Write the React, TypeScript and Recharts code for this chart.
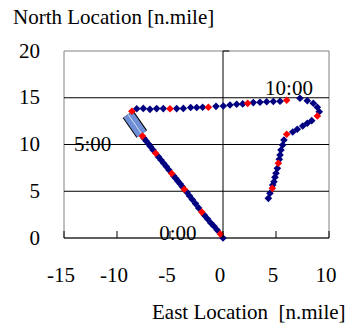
import React from 'react';
import {
  ScatterChart,
  Scatter,
  XAxis,
  YAxis,
  ReferenceLine,
  ReferenceArea,
  ReferenceDot,
} from 'recharts';

// ---- data (East, North in n.mile) ----
const xTicks = [-15, -10, -5, 0, 5, 10];
const yTicks = [0, 5, 10, 15, 20];
const gridY = [5, 10, 15];

// 10-minute track points (blue)
const diagonalTrack = [
  { x: 0, y: 0 },
  { x: -0.55, y: 0.85 }, { x: -0.85, y: 1.25 }, { x: -1.15, y: 1.6 }, { x: -1.45, y: 2.02 }, { x: -1.75, y: 2.42 },
  { x: -2.3, y: 3.22 }, { x: -2.6, y: 3.68 }, { x: -2.9, y: 4.12 }, { x: -3.15, y: 4.5 }, { x: -3.4, y: 4.88 },
  { x: -3.85, y: 5.5 }, { x: -4.05, y: 5.8 }, { x: -4.25, y: 6.08 }, { x: -4.45, y: 6.36 }, { x: -4.65, y: 6.62 },
  { x: -5.1, y: 7.28 }, { x: -5.35, y: 7.64 }, { x: -5.6, y: 8.0 }, { x: -5.85, y: 8.35 }, { x: -6.1, y: 8.7 },
  { x: -6.6, y: 9.42 }, { x: -6.85, y: 9.78 }, { x: -7.05, y: 10.08 }, { x: -7.25, y: 10.38 }, { x: -7.45, y: 10.66 },
];
const eastTrack = [
  { x: -8.14, y: 13.82 }, { x: -7.52, y: 13.86 }, { x: -6.89, y: 13.76 }, { x: -6.26, y: 13.84 }, { x: -5.63, y: 13.84 },
  { x: -4.37, y: 13.84 }, { x: -3.74, y: 13.86 }, { x: -3.05, y: 13.96 }, { x: -2.48, y: 13.96 }, { x: -1.92, y: 13.98 },
  { x: -0.66, y: 14.08 }, { x: 0.03, y: 14.12 }, { x: 0.66, y: 14.22 }, { x: 1.29, y: 14.3 }, { x: 1.86, y: 14.34 },
  { x: 2.86, y: 14.48 }, { x: 3.49, y: 14.52 }, { x: 4.12, y: 14.58 }, { x: 4.75, y: 14.6 }, { x: 5.38, y: 14.62 },
];
const returnTrack = [
  { x: 7.26, y: 14.94 }, { x: 7.95, y: 14.69 }, { x: 8.52, y: 14.41 }, { x: 8.9, y: 13.98 }, { x: 9.08, y: 13.51 },
  { x: 8.37, y: 12.55 }, { x: 7.95, y: 12.27 }, { x: 7.52, y: 11.98 }, { x: 7.01, y: 11.63 }, { x: 6.58, y: 11.34 },
  { x: 5.75, y: 10.48 }, { x: 5.63, y: 9.95 }, { x: 5.47, y: 9.41 }, { x: 5.38, y: 8.88 }, { x: 5.31, y: 8.41 },
  { x: 5.13, y: 7.45 }, { x: 5.0, y: 6.92 }, { x: 4.9, y: 6.49 }, { x: 4.81, y: 6.02 }, { x: 4.69, y: 5.67 },
  { x: 4.43, y: 4.78 }, { x: 4.28, y: 4.24 },
];
// hourly positions (red)
const hourMarks = [
  { x: -0.25, y: 0.43 }, { x: -2.0, y: 2.77 }, { x: -3.65, y: 5.22 }, { x: -4.84, y: 6.9 }, { x: -6.35, y: 9.06 },
  { x: -7.6, y: 10.9 }, { x: -8.6, y: 13.55 }, { x: -5.0, y: 13.82 }, { x: -1.38, y: 13.98 }, { x: 2.33, y: 14.4 },
  { x: 6.01, y: 14.73 }, { x: 8.9, y: 13.05 }, { x: 6.01, y: 11.09 }, { x: 5.22, y: 7.99 }, { x: 4.65, y: 5.31 },
];
// the box drawn between 5:00 and 6:00
const boxSegment = [
  { x: -7.66, y: 11.12 },
  { x: -8.96, y: 13.23 },
];
// time labels (text centre x, baseline y)
const timeLabels = [
  { x: -4.25, y: -0.2, text: '0:00' },
  { x: -12.3, y: 9.3, text: '5:00' },
  { x: 6.23, y: 15.26, text: '10:00' },
];

const FONT = "'Liberation Serif', 'Times New Roman', serif";
const FS = 21;
const NAVY = '#000080';
const RED = '#FF0000';
const textStyle = { fontFamily: FONT, fontSize: FS };

const diamond = (color: string) => (props: any) => {
  const { cx, cy } = props;
  const h = 3.8;
  return (
    <polygon
      points={`${cx},${cy - h} ${cx + h},${cy} ${cx},${cy + h} ${cx - h},${cy}`}
      fill={color}
    />
  );
};

const noShape = () => <g />;

const XTick = (props: any) => {
  const { x, y, payload } = props;
  return (
    <g>
      <line x1={x} y1={y} x2={x} y2={y - 7} stroke="#000" strokeWidth={1} />
      <text x={x - 3} y={y + 43.5} textAnchor="middle" style={textStyle} fill="#000">
        {payload.value}
      </text>
    </g>
  );
};

const YTick = (props: any) => {
  const { x, y, payload } = props;
  return (
    <text x={x - 24} y={y + 6.5} textAnchor="end" style={textStyle} fill="#000">
      {payload.value}
    </text>
  );
};

const labelShape = (text: string) => (props: any) => (
  <text x={props.cx} y={props.cy} textAnchor="middle" style={textStyle} fill="#000">
    {text}
  </text>
);

export default function App() {
  return (
    <div style={{ position: 'absolute', left: 0, top: 0, width: 350, height: 327, background: '#fff' }}>
      <ScatterChart width={350} height={327} margin={{ top: 51, right: 21, bottom: 59, left: 24 }}>
        <XAxis
          type="number"
          dataKey="x"
          domain={[-15, 10]}
          ticks={xTicks}
          interval={0}
          height={30}
          tickSize={0}
          tickMargin={0}
          tickLine={false}
          axisLine={{ stroke: '#000' }}
          tick={<XTick />}
        />
        <YAxis
          type="number"
          dataKey="y"
          domain={[0, 20]}
          ticks={yTicks}
          interval={0}
          width={40}
          tickSize={0}
          tickMargin={0}
          tickLine={false}
          axisLine={false}
          tick={<YTick />}
        />
        <ReferenceArea x1={-15} x2={10} y1={0} y2={20} fill="none" stroke="#808080" strokeWidth={1} fillOpacity={0} />
        {gridY.map((v) => (
          <ReferenceLine key={v} y={v} stroke="#000" strokeWidth={1} />
        ))}
        <ReferenceLine x={0} stroke="#000" strokeWidth={1} />
        <ReferenceLine
          segment={[{ x: 0, y: 20 }, { x: 0.6, y: 20 }]}
          stroke="#000"
          strokeWidth={1}
        />
        <Scatter
          data={boxSegment}
          line={{ stroke: '#000000', strokeWidth: 13, strokeLinecap: 'butt' }}
          stroke="#000000"
          strokeWidth={13}
          shape={noShape}
          isAnimationActive={false}
        />
        <Scatter
          data={boxSegment}
          line={{ stroke: '#6F8FD6', strokeWidth: 11, strokeLinecap: 'butt' }}
          stroke="#6F8FD6"
          strokeWidth={11}
          shape={noShape}
          isAnimationActive={false}
        />
        <Scatter
          data={boxSegment}
          line={{ stroke: '#D6E0F6', strokeWidth: 1 }}
          stroke="#D6E0F6"
          strokeWidth={1}
          shape={noShape}
          isAnimationActive={false}
        />
        <Scatter data={diagonalTrack} shape={diamond(NAVY)} isAnimationActive={false} />
        <Scatter data={eastTrack} shape={diamond(NAVY)} isAnimationActive={false} />
        <Scatter data={returnTrack} shape={diamond(NAVY)} isAnimationActive={false} />
        <Scatter data={hourMarks} shape={diamond(RED)} isAnimationActive={false} />
        {timeLabels.map((l) => (
          <ReferenceDot key={l.text} x={l.x} y={l.y} r={1} ifOverflow="visible" shape={labelShape(l.text)} />
        ))}
      </ScatterChart>
      <svg width={350} height={327} style={{ position: 'absolute', left: 0, top: 0, pointerEvents: 'none' }}>
        <text x={13} y={24} style={textStyle} fill="#000">
          North Location [n.mile]
        </text>
        <text x={152} y={319} style={{ ...textStyle, whiteSpace: 'pre' }} fill="#000">
          {'East Location  [n.mile]'}
        </text>
      </svg>
    </div>
  );
}
